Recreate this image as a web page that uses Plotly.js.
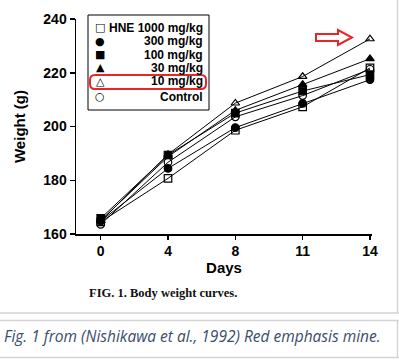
<!DOCTYPE html>
<html><head><meta charset="utf-8">
<script src="https://cdn.plot.ly/plotly-3.0.1.min.js"></script>
<style>html,body{margin:0;padding:0;background:#fff}#chart{width:399px;height:360px}</style>
</head><body><div id="chart"></div>
<script>
// ---- data ----
var days = ['0', '4', '8', '11', '14'];
var hne1000 = [164.5, 180.7, 198.6, 207.3, 221.8];
var dose300 = [164.8, 184.4, 199.6, 208.6, 217.4];
var dose100 = [165.8, 189.4, 205.0, 213.2, 219.3];
var dose30  = [165.0, 188.8, 206.0, 215.6, 225.2];
var dose10  = [164.8, 189.6, 208.7, 218.6, 232.6];
var control = [163.6, 186.7, 203.6, 211.5, 221.3];
var seriesNames = ['HNE 1000 mg/kg', '300 mg/kg', '100 mg/kg', '30 mg/kg', '10 mg/kg', 'Control'];
var legendGlyphs = ['\u25A1', '\u25CF', '\u25A0', '\u25B2', '\u25B3', '\u25CB'];
var yTicks = [160, 180, 200, 220, 240];

// ---- layout helpers (pixel -> paper) ----
var L = 76, R = 372, T = 19, B = 234;
function px(x) { return (x - L) / (R - L); }
function py(y) { return (B - y) / (B - T); }

var font = 'Liberation Sans, Arial, sans-serif';
var seriesData = [hne1000, dose300, dose100, dose30, dose10, control];
var symbols = ['square-open', 'circle', 'square', 'triangle-up', 'triangle-up-open', 'circle-open'];
var traces = seriesData.map(function (vals, i) {
  return {
    x: days, y: vals, type: 'scatter', mode: 'lines+markers', name: seriesNames[i],
    line: {color: '#000', width: 1},
    marker: {symbol: symbols[i], size: 7.5, color: '#000', line: {color: '#000', width: 1.2}},
    cliponaxis: false, showlegend: false
  };
});

var annotations = [];
var legendRows = [28, 41.5, 54.5, 67.5, 81, 96.5];
for (var i = 0; i < seriesNames.length; i++) {
  annotations.push({xref: 'paper', yref: 'paper', x: px(100), y: py(legendRows[i]), text: legendGlyphs[i],
    showarrow: false, xanchor: 'center', yanchor: 'middle', font: {family: 'DejaVu Sans', size: 11, color: '#000'}});
  annotations.push({xref: 'paper', yref: 'paper', x: px(205), y: py(legendRows[i]), text: seriesNames[i],
    showarrow: false, xanchor: 'right', yanchor: 'middle', font: {family: font, size: 12, color: '#000', weight: 'bold'}});
}
annotations.push({xref: 'paper', yref: 'paper', x: px(163), y: py(293), text: 'FIG. 1. Body weight curves.',
  showarrow: false, xanchor: 'center', yanchor: 'middle', font: {family: 'Liberation Serif, Times New Roman, serif', size: 12.5, color: '#111', weight: 'bold'}});
annotations.push({xref: 'paper', yref: 'paper', x: px(2), y: py(336), text: '<i>Fig. 1 from (Nishikawa et al., 1992) Red emphasis mine.</i>',
  showarrow: false, xanchor: 'left', yanchor: 'middle', font: {family: 'Open Sans, sans-serif', size: 15.5, color: '#3b4d6b'}});

function pathFrom(pts) {
  return 'M' + pts.map(function (p) { return px(p[0]) + ',' + py(p[1]); }).join(' L') + ' Z';
}
function roundRect(x0, y0, x1, y1, r) {
  function P(x, y) { return px(x) + ',' + py(y); }
  return 'M' + P(x0 + r, y0) + ' L' + P(x1 - r, y0) + ' Q' + P(x1, y0) + ' ' + P(x1, y0 + r) +
    ' L' + P(x1, y1 - r) + ' Q' + P(x1, y1) + ' ' + P(x1 - r, y1) +
    ' L' + P(x0 + r, y1) + ' Q' + P(x0, y1) + ' ' + P(x0, y1 - r) +
    ' L' + P(x0, y0 + r) + ' Q' + P(x0, y0) + ' ' + P(x0 + r, y0) + ' Z';
}
var gray = '#d4d4d4';
var shapes = [
  {type: 'rect', xref: 'paper', yref: 'paper', x0: px(88), x1: px(209), y0: py(15), y1: py(110),
    line: {color: '#000', width: 1}, fillcolor: 'rgba(255,255,255,0)', layer: 'above'},
  {type: 'path', xref: 'paper', yref: 'paper', path: roundRect(90, 75, 206, 89, 5),
    line: {color: '#e8262a', width: 2}, layer: 'above'},
  {type: 'path', xref: 'paper', yref: 'paper',
    path: pathFrom([[316, 34], [338, 34], [338, 30], [352, 37.5], [338, 45], [338, 41], [316, 41]]),
    line: {color: '#e8262a', width: 2}, layer: 'above'},
  {type: 'line', xref: 'paper', yref: 'paper', x0: px(397.5), x1: px(397.5), y0: py(0), y1: py(313), line: {color: gray, width: 1.5}},
  {type: 'line', xref: 'paper', yref: 'paper', x0: px(0), x1: px(399), y0: py(313), y1: py(313), line: {color: gray, width: 1.5}},
  {type: 'line', xref: 'paper', yref: 'paper', x0: px(0), x1: px(399), y0: py(320.5), y1: py(320.5), line: {color: gray, width: 1.5}},
  {type: 'line', xref: 'paper', yref: 'paper', x0: px(0), x1: px(399), y0: py(357.5), y1: py(357.5), line: {color: gray, width: 1.5}},
  {type: 'line', xref: 'paper', yref: 'paper', x0: px(397.5), x1: px(397.5), y0: py(320.5), y1: py(357.5), line: {color: gray, width: 1.5}}
];

var layout = {
  width: 399, height: 360,
  margin: {l: L, r: 399 - R, t: T, b: 360 - B},
  paper_bgcolor: '#fff', plot_bgcolor: '#fff',
  showlegend: false,
  xaxis: {
    type: 'category', categoryorder: 'array', categoryarray: days,
    range: [-0.367, 4.03], showgrid: false, zeroline: false,
    showline: true, linecolor: '#000', linewidth: 1.5,
    ticks: 'outside', ticklen: 4, tickwidth: 1.5, tickcolor: '#000',
    tickfont: {family: font, size: 14, color: '#000', weight: 'bold'},
    title: {text: 'Days', font: {family: font, size: 15, color: '#000', weight: 'bold'}, standoff: 4},
    fixedrange: true
  },
  yaxis: {
    range: [160, 240], tickvals: yTicks, showgrid: false, zeroline: false,
    showline: true, linecolor: '#000', linewidth: 1.5,
    ticks: 'outside', ticklen: 5, tickwidth: 1.5, tickcolor: '#000',
    tickfont: {family: font, size: 14, color: '#000', weight: 'bold'},
    title: {text: 'Weight (g)', font: {family: font, size: 15, color: '#000', weight: 'bold'}, standoff: 14},
    fixedrange: true
  },
  annotations: annotations,
  shapes: shapes
};
Plotly.newPlot('chart', traces, layout, {displayModeBar: false, staticPlot: true});
</script>
</body></html>
